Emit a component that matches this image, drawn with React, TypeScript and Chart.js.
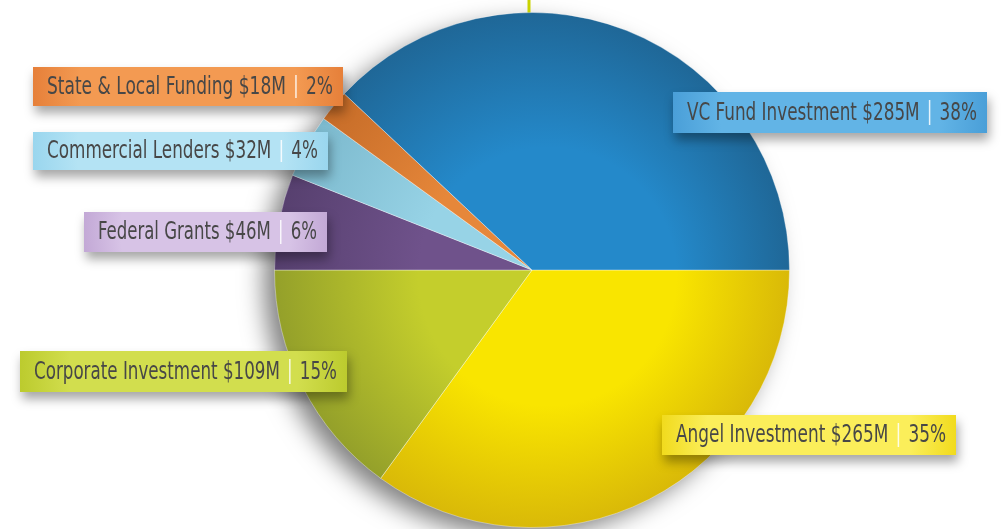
import React, { useEffect, useRef } from "react";
import { Chart, registerables } from "chart.js";

Chart.register(...registerables);

// ---- data (clockwise from 3 o'clock) ----
const categories = [
  "Angel Investment",
  "Corporate Investment",
  "Federal Grants",
  "Commercial Lenders",
  "State & Local Funding",
  "VC Fund Investment",
];
const amountsM = [265, 109, 46, 32, 18, 285];
const percents = [35, 15, 6, 4, 2, 38];

// ---- styles ----
const sliceLight = ["#f9e500", "#c4ce2c", "#6f528b", "#97d3e6", "#e6873a", "#2489ca"];
const sliceDark = ["#d9b908", "#94a02a", "#57406f", "#7cb9cd", "#c66c28", "#1f6797"];
const boxLight = ["#fbee5a", "#d2de4e", "#d7c3e6", "#b4e3f4", "#f39a52", "#62b4e6"];
const boxDark = ["#f1db1e", "#bccb2e", "#c3a9d6", "#9ad6ee", "#e6803a", "#4a9fd8"];

// label box layout (x, y, w, h)
const boxLayout = [
  [662, 415, 294, 40],
  [20, 351, 327, 41],
  [84, 212, 243, 40],
  [33, 132, 295, 38],
  [33, 67, 310, 39],
  [673, 92, 314, 41],
];

const FONT = '24px "Liberation Sans Narrow", "DejaVu Sans Condensed", "Open Sans", sans-serif';

export default function App() {
  const ref = useRef<HTMLCanvasElement | null>(null);

  useEffect(() => {
    document.body.style.margin = "0";
    const canvas = ref.current!;

    const geom = (chart: any) => {
      const a = chart.chartArea;
      const cx = (a.left + a.right) / 2;
      const cy = (a.top + a.bottom) / 2;
      const r = Math.min(a.right - a.left, a.bottom - a.top) / 2;
      return { cx, cy, r };
    };

    const shadowPlugin = {
      id: "pieShadow",
      beforeDatasetsDraw(chart: any) {
        const { cx, cy, r } = geom(chart);
        const ctx = chart.ctx;
        ctx.save();
        ctx.beginPath();
        ctx.arc(cx, cy, r - 2, 0, Math.PI * 2);
        ctx.fillStyle = "#ffffff";
        ctx.shadowColor = "rgba(0,0,0,0.5)";
        ctx.shadowBlur = 24;
        ctx.shadowOffsetX = -12;
        ctx.shadowOffsetY = 10;
        ctx.fill();
        ctx.restore();
        // top pointer line
        ctx.save();
        ctx.strokeStyle = "#c9d300";
        ctx.lineWidth = 3;
        ctx.beginPath();
        ctx.moveTo(cx - 3, 0);
        ctx.lineTo(cx - 3, cy - r + 1);
        ctx.stroke();
        ctx.restore();
      },
    };

    const labelPlugin = {
      id: "boxLabels",
      afterDraw(chart: any) {
        const ctx = chart.ctx;
        categories.forEach((name, i) => {
          const [x, y, w, h] = boxLayout[i];
          ctx.save();
          ctx.shadowColor = "rgba(0,0,0,0.35)";
          ctx.shadowBlur = 10;
          ctx.shadowOffsetX = 2;
          ctx.shadowOffsetY = 7;
          ctx.fillStyle = boxDark[i];
          ctx.fillRect(x, y, w, h);
          ctx.restore();
          ctx.save();
          const g = ctx.createRadialGradient(x + w / 2, y + h / 2, 0, x + w / 2, y + h / 2, w / 2);
          g.addColorStop(0, boxLight[i]);
          g.addColorStop(0.7, boxLight[i]);
          g.addColorStop(1, boxDark[i]);
          ctx.fillStyle = g;
          ctx.fillRect(x, y, w, h);

          const main = `${name} $${amountsM[i]}M`;
          const pct = `${percents[i]}%`;
          ctx.font = FONT;
          const w1 = ctx.measureText(main).width;
          const w2 = ctx.measureText(pct).width;
          const padL = 14, padR = 10, gap = 10;
          let sx = (w - padL - padR - 2 * gap) / (w1 + w2);
          sx = Math.max(0.7, Math.min(1.25, sx));
          const ty = y + h / 2 + 1;
          ctx.translate(x + padL, ty);
          ctx.scale(sx, 1);
          ctx.fillStyle = "#474747";
          ctx.textBaseline = "middle";
          ctx.textAlign = "left";
          ctx.fillText(main, 0, 0);
          ctx.fillText(pct, w1 + (2 * gap) / sx, 0);
          ctx.restore();
          ctx.save();
          const sepAbs = x + padL + w1 * sx + gap;
          ctx.strokeStyle = "rgba(255,255,255,0.85)";
          ctx.lineWidth = 1.5;
          ctx.beginPath();
          ctx.moveTo(sepAbs, y + 8);
          ctx.lineTo(sepAbs, y + h - 8);
          ctx.stroke();
          ctx.restore();
        });
      },
    };

    const chart = new Chart(canvas, {
      type: "pie",
      data: {
        labels: categories,
        datasets: [
          {
            data: percents,
            backgroundColor: (c: any) => {
              const ch = c.chart;
              if (!ch.chartArea) return sliceLight[c.dataIndex];
              const { cx, cy, r } = geom(ch);
              const g = ch.ctx.createRadialGradient(cx + r * 0.12, cy + r * 0.05, 0, cx, cy, r);
              g.addColorStop(0, sliceLight[c.dataIndex]);
              g.addColorStop(0.5, sliceLight[c.dataIndex]);
              g.addColorStop(1, sliceDark[c.dataIndex]);
              return g;
            },
            borderColor: "rgba(255,255,255,0.35)",
            borderWidth: 1,
          },
        ],
      },
      options: {
        responsive: false,
        animation: false,
        rotation: 90,
        layout: { padding: { left: 274, right: 212, top: 12, bottom: 1 } },
        plugins: { legend: { display: false }, tooltip: { enabled: false } },
      },
      plugins: [shadowPlugin, labelPlugin],
    });
    return () => chart.destroy();
  }, []);

  return (
    <div style={{ width: 1002, height: 529, background: "#fff" }}>
      <canvas ref={ref} width={1002} height={529} style={{ display: "block" }} />
    </div>
  );
}
